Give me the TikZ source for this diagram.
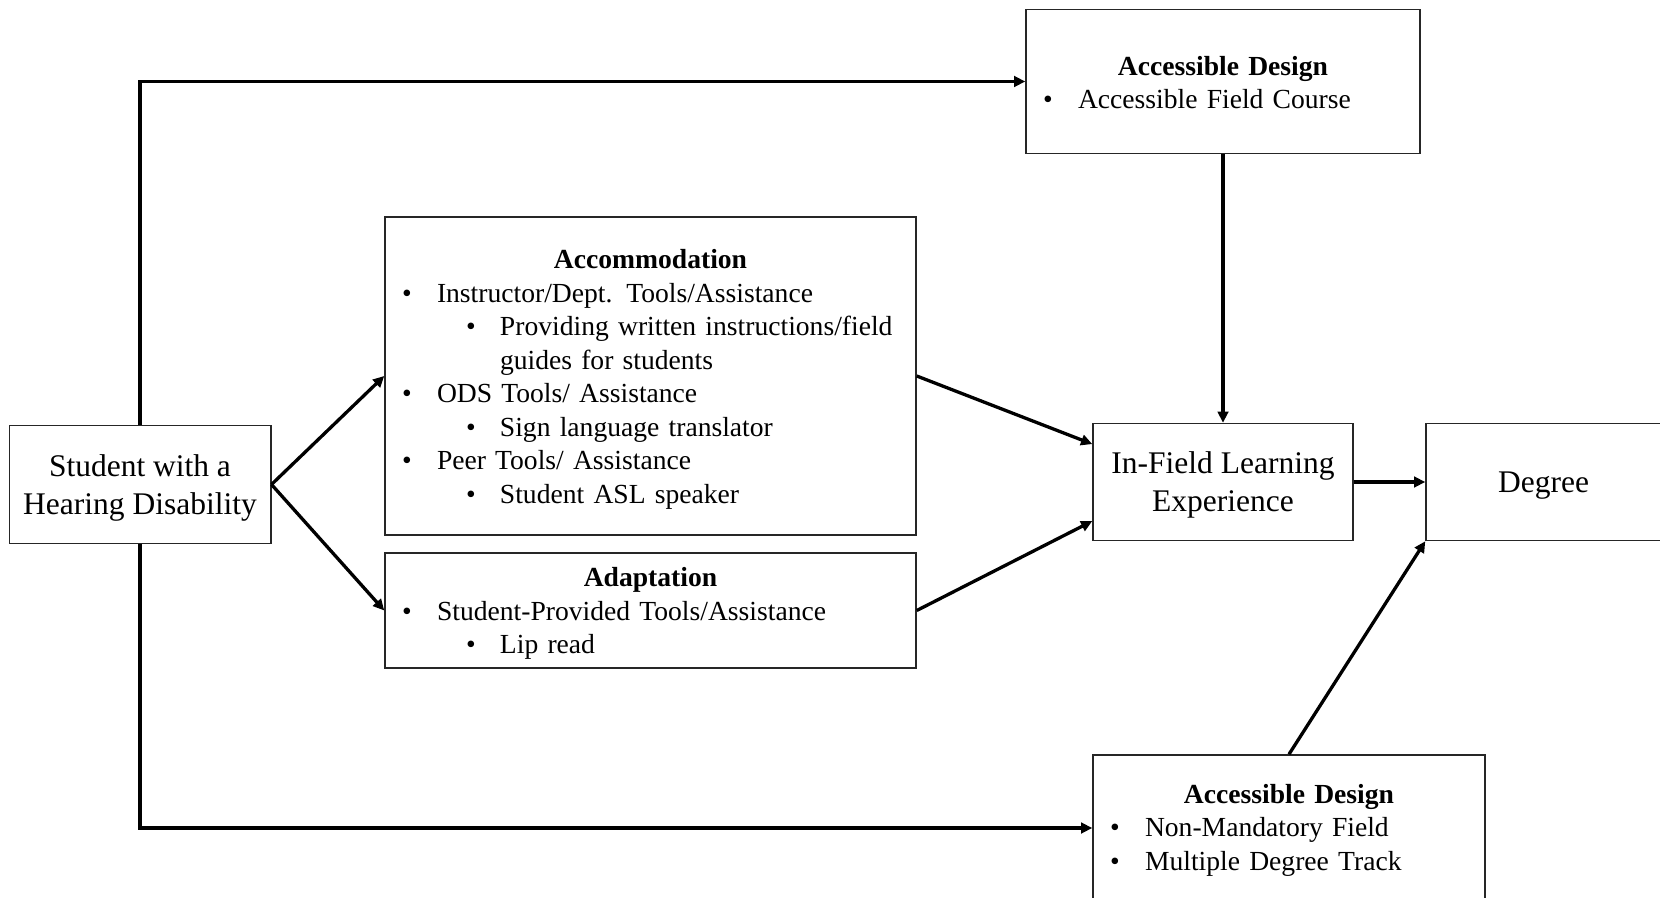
\documentclass[tikz,border=0pt]{standalone}
\usepackage{fontspec}
\setmainfont{Liberation Serif}
\usetikzlibrary{arrows.meta,calc}
\newcommand\lvla[1]{\makebox[17.5pt][l]{\textbullet}#1}
\newcommand\lvlb[1]{\hspace*{32pt}\makebox[17pt][l]{\textbullet}#1}
\newcommand\lvlc[1]{\hspace*{49pt}#1}
\newcommand\hdr[2][12.8pt]{\makebox[\linewidth]{\rule{0pt}{#1}\textbf{#2}}}
\newcommand\bigstrut{\rule{0pt}{14pt}}
\begin{document}
\begin{tikzpicture}[x=0.5pt,y=-0.5pt,
  box/.style={draw=black!85, line width=0.75pt, inner sep=0pt},
  bigbox/.style={box, align=center, font=\fontsize{15.75}{19}\selectfont},
  listbox/.style={box, align=left, inner xsep=8.5pt, inner ysep=0pt, font=\fontsize{13.8}{16.75}\selectfont},
  arr/.style={line width=1.65pt, -{Triangle[length=5.6pt,width=5.3pt]}}]
\useasboundingbox (0,0) rectangle (1660,898);
\node[bigbox, minimum width=130.75pt, minimum height=58.75pt] (stu) at (140,484.5) {\bigstrut Student with a\\Hearing Disability};
\node[listbox, text width=248.5pt, minimum height=159pt] (acc) at (650.5,376) {\hdr{Accommodation}\\
\lvla{Instructor/Dept. Tools/Assistance}\\
\lvlb{Providing written instructions/field}\\
\lvlc{guides for students}\\
\lvla{ODS Tools/ Assistance}\\
\lvlb{Sign language translator}\\
\lvla{Peer Tools/ Assistance}\\
\lvlb{Student ASL speaker}};
\node[listbox, text width=248.5pt, minimum height=57.5pt] (ada) at (650.5,610.5) {\hdr{Adaptation}\\
\lvla{Student-Provided Tools/Assistance}\\
\lvlb{Lip read}};
\node[listbox, text width=180pt, minimum height=72pt] (adtop) at (1223,81.5) {\hdr[10.6pt]{Accessible Design}\\
\lvla{Accessible Field Course}};
\node[bigbox, minimum width=130pt, minimum height=58.5pt] (inf) at (1223,482) {\bigstrut In-Field Learning\\Experience};
\node[bigbox, minimum width=117.5pt, minimum height=58.5pt] (deg) at (1543.5,482) {\bigstrut Degree};
\node[listbox, text width=179pt, minimum height=73pt] (adbot) at (1289,828) {\hdr[11.6pt]{Accessible Design}\\
\lvla{Non-Mandatory Field}\\
\lvla{Multiple Degree Track}};
\draw[arr] (stu.north) |- (adtop.west);
\draw[arr] (stu.south) |- (adbot.west);
\draw[arr] (stu.east) -- (acc.west);
\draw[arr] (stu.east) -- (ada.west);
\draw[arr] (acc.east) -- ($(inf.north west)!0.18!(inf.south west)$);
\draw[arr] (ada.east) -- ($(inf.north west)!0.83!(inf.south west)$);
\draw[arr] (adtop.south) -- (inf.north);
\draw[arr] (inf.east) -- (deg.west);
\draw[arr] (adbot.north) -- (deg.south west);
\end{tikzpicture}
\end{document}
